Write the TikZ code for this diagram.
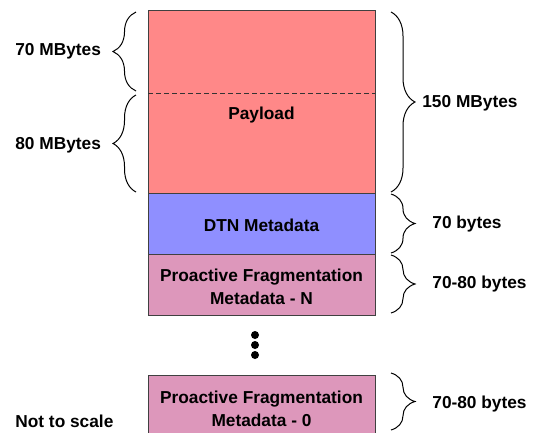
\documentclass[tikz,border=0pt]{standalone}
\usepackage{fontspec}
\setmainfont{Liberation Sans}
\usetikzlibrary{decorations.pathreplacing}

\definecolor{payloadred}{RGB}{255,136,136}
\definecolor{dtnblue}{RGB}{143,143,255}
\definecolor{fragpink}{RGB}{221,151,187}

\tikzset{every picture/.style={line width=0.75pt}}

\begin{document}
\begin{tikzpicture}[x=1pt,y=1pt,yscale=-1,xscale=1,
    seg/.style={draw=black!75, line width=1pt},
    lbl/.style={font=\fontsize{17.3}{23}\selectfont\bfseries, inner sep=0pt, align=center},
    lbrace/.style={decorate, decoration={brace, amplitude=23pt}, line width=1pt},
    rbrace/.style={decorate, decoration={brace, amplitude=24pt}, line width=1pt}]
    \useasboundingbox (0,0) rectangle (535,432);

    %Shape: Rectangles
    \draw[seg, fill=payloadred] (148,10) rectangle (375,193);
    \draw[seg, fill=dtnblue] (148,193) rectangle (375,254);
    \draw[seg, fill=fragpink] (148,254) rectangle (375,315);
    \draw[seg, fill=fragpink] (148,375) rectangle (375,440);
    %Dashed Line
    \draw[black!80, line width=1pt, dash pattern=on 5pt off 3pt] (148,93) -- (375,93);

    %Dots
    \foreach \y in {335,345,355}
        \fill (255,\y) circle (4);

    % Text Nodes
    \node[lbl] (payload) at (261.5,115) {Payload};
    \node[lbl] (dtn) at (261.5,225) {DTN Metadata};
    \node[lbl] (fragn) at (261.5,287) {Proactive Fragmentation\\Metadata - N};
    \node[lbl] (frag0) at (261.5,409) {Proactive Fragmentation\\Metadata - 0};
    \node[lbl, anchor=west] (seventy) at (15,51) {70 MBytes};
    \node[lbl, anchor=west] (eighty) at (15,145) {80 MBytes};
    \node[lbl, anchor=west] (total) at (422,103) {150 MBytes};
    \node[lbl, anchor=west] (dtnsize) at (432,224) {70 bytes};
    \node[lbl, anchor=west] (fragnsize) at (432,284) {70-80 bytes};
    \node[lbl, anchor=west] (frag0size) at (432,404) {70-80 bytes};
    \node[lbl, anchor=west] (scale) at (15,421) {Not to scale};

    %Brace ends
    \coordinate (la) at (136,12);
    \coordinate (lb) at (136,91);
    \coordinate (lc) at (136,95);
    \coordinate (ld) at (136,192);
    \coordinate (ra) at (391,12);
    \coordinate (rb) at (391,192);
    \coordinate (rc) at (391,194);
    \coordinate (rd) at (391,253);
    \coordinate (re) at (391,255);
    \coordinate (rf) at (391,313);
    \coordinate (rg) at (391,373);
    \coordinate (rh) at (391,430);

    %Braces
    \draw[lbrace] (lb) -- (la);
    \draw[lbrace] (ld) -- (lc);
    \draw[rbrace] (ra) -- (rb);
    \draw[rbrace] (rc) -- (rd);
    \draw[rbrace] (re) -- (rf);
    \draw[rbrace] (rg) -- (rh);

\end{tikzpicture}
\end{document}
